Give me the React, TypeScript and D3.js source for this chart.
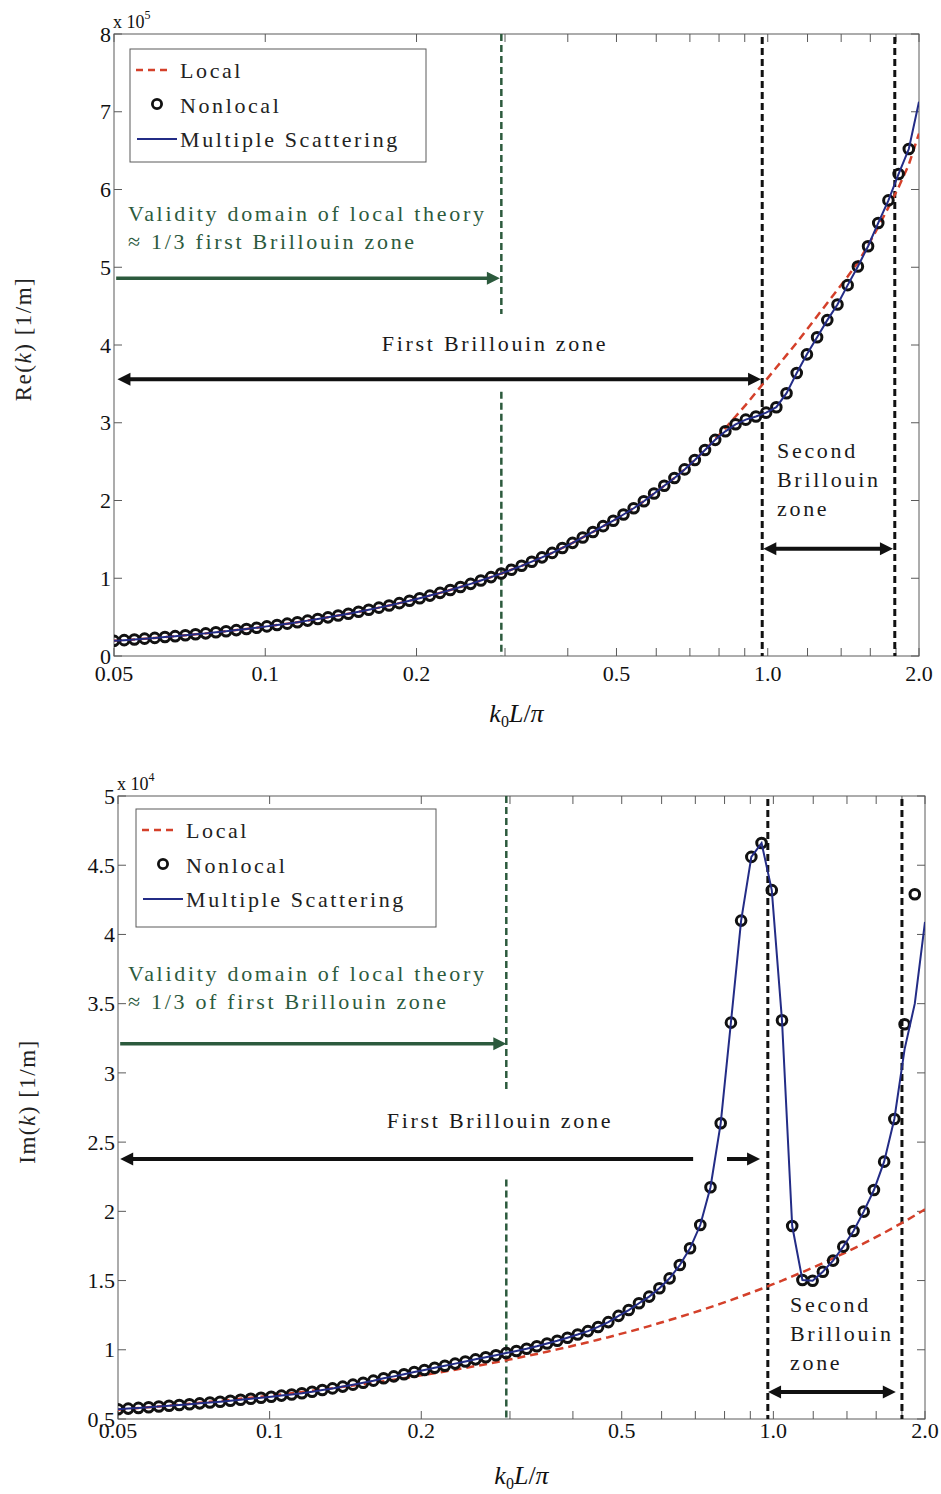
import React from 'react';
import * as d3 from 'd3';

// sampling abscissa k0L/pi: 80 log-spaced samples between 0.05 and 2.0
const N = 80;
const kGrid: number[] = d3.range(N).map((i) => 0.05 * Math.pow(40, i / (N - 1)));

// ---- Top panel: Re(k) in units of 1e5 1/m ----
const reNonlocal: (number | null)[] = [
  0.195, 0.204, 0.213, 0.223, 0.233, 0.244, 0.255, 0.266, 0.279, 0.291,
  0.305, 0.318, 0.333, 0.348, 0.364, 0.381, 0.398, 0.416, 0.435, 0.455,
  0.476, 0.497, 0.52, 0.544, 0.569, 0.594, 0.622, 0.65, 0.68, 0.711,
  0.743, 0.777, 0.812, 0.849, 0.888, 0.928, 0.971, 1.015, 1.061, 1.11,
  1.16, 1.213, 1.269, 1.326, 1.39, 1.455, 1.525, 1.595, 1.67, 1.74,
  1.82, 1.9, 1.99, 2.09, 2.19, 2.29, 2.4, 2.52, 2.65, 2.78,
  2.89, 2.98, 3.04, 3.08, 3.13, 3.2, 3.38, 3.64, 3.88, 4.1,
  4.32, 4.52, 4.77, 5.01, 5.27, 5.57, 5.86, 6.2, 6.52, null,
];
const reMultiple: number[] = [
  0.195, 0.204, 0.213, 0.223, 0.233, 0.244, 0.255, 0.266, 0.279, 0.291,
  0.305, 0.318, 0.333, 0.348, 0.364, 0.381, 0.398, 0.416, 0.435, 0.455,
  0.476, 0.497, 0.52, 0.544, 0.569, 0.594, 0.622, 0.65, 0.68, 0.711,
  0.743, 0.777, 0.812, 0.849, 0.888, 0.928, 0.971, 1.015, 1.061, 1.11,
  1.16, 1.213, 1.269, 1.326, 1.39, 1.455, 1.525, 1.595, 1.67, 1.74,
  1.82, 1.9, 1.99, 2.09, 2.19, 2.29, 2.4, 2.52, 2.65, 2.78,
  2.89, 2.98, 3.04, 3.08, 3.13, 3.2, 3.38, 3.64, 3.88, 4.1,
  4.32, 4.52, 4.77, 5.01, 5.27, 5.57, 5.86, 6.2, 6.52, 7.13,
];
const reLocal: number[] = [
  0.195, 0.204, 0.213, 0.223, 0.233, 0.244, 0.255, 0.266, 0.279, 0.291,
  0.305, 0.318, 0.333, 0.348, 0.364, 0.381, 0.398, 0.416, 0.435, 0.455,
  0.476, 0.497, 0.52, 0.544, 0.569, 0.594, 0.622, 0.65, 0.68, 0.711,
  0.743, 0.777, 0.812, 0.849, 0.888, 0.928, 0.971, 1.015, 1.061, 1.11,
  1.16, 1.213, 1.269, 1.326, 1.39, 1.455, 1.525, 1.595, 1.67, 1.74,
  1.82, 1.9, 1.99, 2.09, 2.19, 2.29, 2.4, 2.52, 2.65, 2.79,
  2.93, 3.08, 3.23, 3.39, 3.55, 3.71, 3.87, 4.03, 4.2, 4.37,
  4.54, 4.71, 4.88, 5.06, 5.28, 5.52, 5.77, 6.03, 6.32, 6.72,
];

// ---- Bottom panel: Im(k) in units of 1e4 1/m ----
const imNonlocal: (number | null)[] = [
  0.57, 0.575, 0.58, 0.585, 0.59, 0.596, 0.601, 0.607, 0.613, 0.619,
  0.625, 0.632, 0.639, 0.646, 0.653, 0.661, 0.669, 0.677, 0.686, 0.697,
  0.709, 0.721, 0.734, 0.748, 0.762, 0.777, 0.794, 0.808, 0.823, 0.839,
  0.854, 0.87, 0.885, 0.9, 0.915, 0.931, 0.946, 0.961, 0.976, 0.991,
  1.007, 1.025, 1.045, 1.065, 1.087, 1.11, 1.135, 1.165, 1.2, 1.245,
  1.287, 1.336, 1.384, 1.444, 1.516, 1.612, 1.733, 1.901, 2.174, 2.636,
  3.363, 4.1, 4.56, 4.66, 4.32, 3.38, 1.894, 1.504, 1.499, 1.564,
  1.644, 1.745, 1.858, 1.998, 2.154, 2.359, 2.667, 3.351, 4.29, null,
];
const imMultiple: number[] = [
  0.57, 0.575, 0.58, 0.585, 0.59, 0.596, 0.601, 0.607, 0.613, 0.619,
  0.625, 0.632, 0.639, 0.646, 0.653, 0.661, 0.669, 0.677, 0.686, 0.697,
  0.709, 0.721, 0.734, 0.748, 0.762, 0.777, 0.794, 0.808, 0.823, 0.839,
  0.854, 0.87, 0.885, 0.9, 0.915, 0.931, 0.946, 0.961, 0.976, 0.991,
  1.007, 1.025, 1.045, 1.065, 1.087, 1.11, 1.135, 1.165, 1.2, 1.245,
  1.287, 1.336, 1.384, 1.444, 1.516, 1.612, 1.733, 1.901, 2.174, 2.636,
  3.363, 4.1, 4.56, 4.66, 4.32, 3.38, 1.894, 1.504, 1.499, 1.564,
  1.644, 1.745, 1.858, 1.998, 2.154, 2.359, 2.667, 3.17, 3.5, 4.09,
];
const imLocal: number[] = [
  0.567, 0.573, 0.579, 0.585, 0.591, 0.597, 0.603, 0.61, 0.617, 0.624,
  0.631, 0.638, 0.646, 0.654, 0.661, 0.67, 0.678, 0.686, 0.695, 0.704,
  0.713, 0.723, 0.732, 0.742, 0.752, 0.763, 0.773, 0.784, 0.795, 0.807,
  0.819, 0.831, 0.843, 0.856, 0.869, 0.882, 0.896, 0.91, 0.925, 0.939,
  0.955, 0.97, 0.986, 1.003, 1.019, 1.037, 1.054, 1.073, 1.091, 1.111,
  1.13, 1.15, 1.171, 1.193, 1.215, 1.237, 1.26, 1.284, 1.308, 1.333,
  1.359, 1.386, 1.413, 1.441, 1.47, 1.499, 1.53, 1.561, 1.593, 1.626,
  1.66, 1.695, 1.731, 1.768, 1.806, 1.845, 1.886, 1.927, 1.97, 2.014,
];

// ---- axes ----
const xTickValues = [0.05, 0.1, 0.2, 0.3, 0.4, 0.5, 0.6, 0.7, 0.8, 0.9, 1.0, 1.2, 1.4, 1.6, 1.8, 2.0];
const xLabelValues = [0.05, 0.1, 0.2, 0.5, 1.0, 2.0];
const xLabelTexts = ['0.05', '0.1', '0.2', '0.5', '1.0', '2.0'];
const reTicks = [0, 1, 2, 3, 4, 5, 6, 7, 8];
const reTickLabels = ['0', '1', '2', '3', '4', '5', '6', '7', '8'];
const imTicks = [0.5, 1, 1.5, 2, 2.5, 3, 3.5, 4, 4.5, 5];
const imTickLabels = ['0.5', '1', '1.5', '2', '2.5', '3', '3.5', '4', '4.5', '5'];

// zone boundaries (k0L/pi)
const reZoneLines = [0.975, 1.79];
const imZoneLines = [0.975, 1.8];
const validityLimit = 0.295;

const FONT = "'Liberation Serif','Times New Roman',serif";
const RED = '#d4402a';
const BLUE = '#232c86';
const GREEN = '#2c5a3d';
const AXIS = '#5a5a5a';

type Scales = { x: d3.ScaleLogarithmic<number, number>; y: d3.ScaleLinear<number, number> };

function Arrow({ x1, x2, y, color, w, startHead, endHead }: any) {
  const hl = 13;
  const hw = 6.5;
  const a = startHead ? x1 + hl - 1 : x1;
  const b = endHead ? x2 - hl + 1 : x2;
  return (
    <g>
      <line x1={a} x2={b} y1={y} y2={y} stroke={color} strokeWidth={w} />
      {startHead && <polygon points={`${x1},${y} ${x1 + hl},${y - hw} ${x1 + hl},${y + hw}`} fill={color} />}
      {endHead && <polygon points={`${x2},${y} ${x2 - hl},${y - hw} ${x2 - hl},${y + hw}`} fill={color} />}
    </g>
  );
}

function Panel(props: any) {
  const {
    id, left, right, top, bottom, yDomain, yTicks, yTickLabels, local, nonlocal, multiple,
    zoneLines, xLabelOffset, exponent, yTitle, xTitleY, yTitleX, legend, greenGaps, children,
  } = props;
  const x = d3.scaleLog().domain([0.05, 2.0]).range([left, right]);
  const y = d3.scaleLinear().domain(yDomain).range([bottom, top]);
  const s: Scales = { x, y };
  const pts = (arr: (number | null)[]) =>
    arr.map((v, i) => ({ k: kGrid[i], v })).filter((p) => p.v !== null) as { k: number; v: number }[];
  const line = d3
    .line<{ k: number; v: number }>()
    .x((p) => x(p.k))
    .y((p) => y(p.v));
  const tl = 8;
  const midX = (left + right) / 2;
  const midY = (top + bottom) / 2;
  return (
    <g>
      <defs>
        <clipPath id={id}>
          <rect x={left} y={top} width={right - left} height={bottom - top} />
        </clipPath>
      </defs>
      <rect x={left} y={top} width={right - left} height={bottom - top} fill="#fff" stroke={AXIS} strokeWidth={1} />
      {/* ticks */}
      {xTickValues.map((v) => (
        <g key={'xt' + v}>
          <line x1={x(v)} x2={x(v)} y1={bottom} y2={bottom - tl} stroke={AXIS} strokeWidth={1} />
          <line x1={x(v)} x2={x(v)} y1={top} y2={top + tl} stroke={AXIS} strokeWidth={1} />
        </g>
      ))}
      {yTicks.map((v: number) => (
        <g key={'yt' + v}>
          <line x1={left} x2={left + tl} y1={y(v)} y2={y(v)} stroke={AXIS} strokeWidth={1} />
          <line x1={right} x2={right - tl} y1={y(v)} y2={y(v)} stroke={AXIS} strokeWidth={1} />
        </g>
      ))}
      {xLabelValues.map((v, i) => (
        <text key={'xl' + v} x={x(v)} y={bottom + xLabelOffset} textAnchor="middle" fontFamily={FONT} fontSize={22} fill="#111">
          {xLabelTexts[i]}
        </text>
      ))}
      {yTicks.map((v: number, i: number) => (
        <text key={'yl' + v} x={left - 3} y={y(v)} dy="0.35em" textAnchor="end" fontFamily={FONT} fontSize={22} fill="#111">
          {yTickLabels[i]}
        </text>
      ))}
      {/* exponent */}
      <text x={left - 1} y={top - 6} fontFamily={FONT} fontSize={18} fill="#111">
        x 10
        <tspan dy={-9} fontSize={12}>
          {exponent}
        </tspan>
      </text>
      {/* axis titles */}
      <text x={midX} y={xTitleY} textAnchor="middle" fontFamily={FONT} fontSize={26} fill="#111">
        <tspan fontStyle="italic">k</tspan>
        <tspan fontSize={16} dy={5}>0</tspan>
        <tspan fontStyle="italic" dy={-5}>L</tspan>
        <tspan>/</tspan>
        <tspan fontStyle="italic">π</tspan>
      </text>
      <text
        transform={`translate(${yTitleX},${midY - 6}) rotate(-90)`}
        textAnchor="middle"
        fontFamily={FONT}
        fontSize={23}
        letterSpacing={1.5}
        fill="#222"
      >
        {yTitle}
        <tspan>(</tspan>
        <tspan fontStyle="italic">k</tspan>
        <tspan>) [1/m]</tspan>
      </text>
      {/* vertical guide lines */}
      <g clipPath={`url(#${id})`}>
        {greenGaps.map((seg: number[], i: number) => (
          <line
            key={'g' + i}
            x1={x(validityLimit)}
            x2={x(validityLimit)}
            y1={y(seg[0])}
            y2={y(seg[1])}
            stroke={GREEN}
            strokeWidth={2.5}
            strokeDasharray="7 4"
          />
        ))}
        {zoneLines.map((v: number) => (
          <line key={'z' + v} x1={x(v)} x2={x(v)} y1={top + 3} y2={bottom} stroke="#111" strokeWidth={3} strokeDasharray="7 4" />
        ))}
        {/* series */}
        <path d={line(pts(local)) || ''} fill="none" stroke={RED} strokeWidth={2.5} strokeDasharray="8 5" />
        {pts(nonlocal).map((p, i) => (
          <circle key={'c' + i} cx={x(p.k)} cy={y(p.v)} r={4.8} fill="none" stroke="#111" strokeWidth={3} />
        ))}
        <path d={line(pts(multiple)) || ''} fill="none" stroke={BLUE} strokeWidth={2} />
      </g>
      {children(s)}
      {/* legend */}
      <g>
        <rect x={legend.x} y={legend.y} width={legend.w} height={legend.h} fill="#fff" stroke={AXIS} strokeWidth={1} />
        <line x1={legend.x + 6} x2={legend.x + 40} y1={legend.y + 21} y2={legend.y + 21} stroke={RED} strokeWidth={2.5} strokeDasharray="7 5" />
        <circle cx={legend.x + 27} cy={legend.y + 55} r={4.6} fill="none" stroke="#111" strokeWidth={2.8} />
        <line x1={legend.x + 7} x2={legend.x + 47} y1={legend.y + 90} y2={legend.y + 90} stroke={BLUE} strokeWidth={2} />
        {['Local', 'Nonlocal', 'Multiple Scattering'].map((t, i) => (
          <text key={t} x={legend.x + 50} y={legend.y + 29 + i * 34.5} fontFamily={FONT} fontSize={22} letterSpacing={2.6} fill="#222">
            {t}
          </text>
        ))}
      </g>
    </g>
  );
}

export default function App() {
  const txt = { fontFamily: FONT, fontSize: 22, letterSpacing: 2.7 } as any;
  return (
    <svg width={941} height={1494} style={{ position: 'absolute', left: 0, top: 0, background: '#fff' }}>
      <rect width={941} height={1494} fill="#fff" />
      <Panel
        id="clipTop"
        left={114}
        right={919}
        top={34}
        bottom={656}
        yDomain={[0, 8]}
        yTicks={reTicks}
        yTickLabels={reTickLabels}
        local={reLocal}
        nonlocal={reNonlocal}
        multiple={reMultiple}
        zoneLines={reZoneLines}
        xLabelOffset={25}
        exponent="5"
        yTitle="Re"
        xTitleY={722}
        yTitleX={31}
        legend={{ x: 130, y: 49, w: 296, h: 113 }}
        greenGaps={[[8, 4.4], [3.4, 0]]}
      >
        {(s: Scales) => (
          <g>
            <text x={128} y={221} {...txt} fill={GREEN}>Validity domain of local theory</text>
            <text x={128} y={249} {...txt} fill={GREEN}>≈ 1/3 first Brillouin zone</text>
            <Arrow x1={s.x(0.0505)} x2={s.x(0.293)} y={s.y(4.86)} color={GREEN} w={3.5} endHead />
            <text x={495} y={351} textAnchor="middle" {...txt} fill="#1a1a1a">First Brillouin zone</text>
            <Arrow x1={s.x(0.0508)} x2={s.x(0.97)} y={s.y(3.56)} color="#111" w={4} startHead endHead />
            <text x={777} y={458} {...txt} fill="#1a1a1a">Second</text>
            <text x={777} y={487} {...txt} fill="#1a1a1a">Brillouin</text>
            <text x={777} y={516} {...txt} fill="#1a1a1a">zone</text>
            <Arrow x1={s.x(0.98)} x2={s.x(1.775)} y={s.y(1.38)} color="#111" w={4} startHead endHead />
          </g>
        )}
      </Panel>
      <Panel
        id="clipBottom"
        left={118}
        right={925}
        top={796}
        bottom={1419}
        yDomain={[0.5, 5]}
        yTicks={imTicks}
        yTickLabels={imTickLabels}
        local={imLocal}
        nonlocal={imNonlocal}
        multiple={imMultiple}
        zoneLines={imZoneLines}
        xLabelOffset={19}
        exponent="4"
        yTitle="Im"
        xTitleY={1484}
        yTitleX={35}
        legend={{ x: 136, y: 809, w: 300, h: 118 }}
        greenGaps={[[5, 2.88], [2.23, 0.5]]}
      >
        {(s: Scales) => (
          <g>
            <text x={128} y={981} {...txt} fill={GREEN}>Validity domain of local theory</text>
            <text x={128} y={1009} {...txt} fill={GREEN}>≈ 1/3 of first Brillouin zone</text>
            <Arrow x1={s.x(0.0505)} x2={s.x(0.295)} y={s.y(3.21)} color={GREEN} w={3.5} endHead />
            <text x={500} y={1128} textAnchor="middle" {...txt} fill="#1a1a1a">First Brillouin zone</text>
            <Arrow x1={s.x(0.0505)} x2={s.x(0.693)} y={s.y(2.378)} color="#111" w={4} startHead />
            <Arrow x1={s.x(0.809)} x2={s.x(0.941)} y={s.y(2.378)} color="#111" w={4} endHead />
            <text x={790} y={1312} {...txt} fill="#1a1a1a">Second</text>
            <text x={790} y={1341} {...txt} fill="#1a1a1a">Brillouin</text>
            <text x={790} y={1370} {...txt} fill="#1a1a1a">zone</text>
            <Arrow x1={s.x(0.976)} x2={s.x(1.75)} y={s.y(0.695)} color="#111" w={4} startHead endHead />
          </g>
        )}
      </Panel>
    </svg>
  );
}
